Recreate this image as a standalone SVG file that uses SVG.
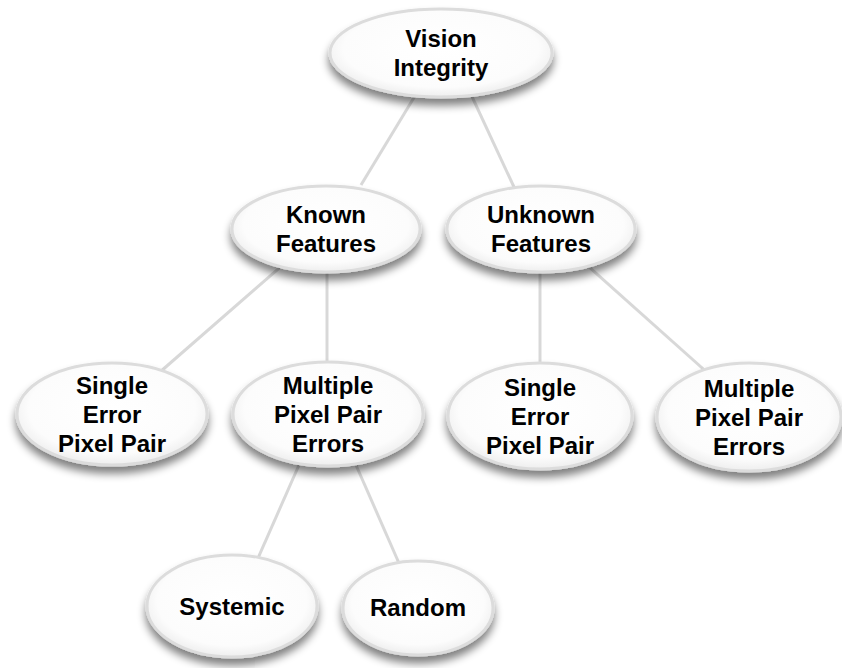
<svg xmlns="http://www.w3.org/2000/svg" width="842" height="668" viewBox="0 0 842 668">
<defs>
<radialGradient id="g" cx="50%" cy="45%" r="55%">
<stop offset="0" stop-color="#ffffff"/>
<stop offset="0.8" stop-color="#fcfcfc"/>
<stop offset="1" stop-color="#eeeeee"/>
</radialGradient>
<filter id="sh" x="-20%" y="-20%" width="140%" height="150%">
<feGaussianBlur in="SourceAlpha" stdDeviation="4"/>
<feOffset dx="0" dy="7" result="b"/>
<feComponentTransfer><feFuncA type="linear" slope="0.5"/></feComponentTransfer>
<feMerge><feMergeNode/><feMergeNode in="SourceGraphic"/></feMerge>
</filter>
</defs>
<style>
.n{fill:url(#g);stroke:#dcdcdc;stroke-width:3;filter:url(#sh)}
.t{font-family:"Liberation Sans",Arial,sans-serif;font-weight:bold;font-size:24px;fill:#000;text-anchor:middle}
.c line{stroke:#d8d8d8;stroke-width:3}
</style>
<rect width="842" height="668" fill="#ffffff"/>
<g class="c" id="connectors">
<line x1="441" y1="53" x2="361" y2="185"/>
<line x1="455" y1="60" x2="520" y2="200"/>
<line x1="300" y1="250" x2="160" y2="372"/>
<line x1="327" y1="240" x2="327" y2="380"/>
<line x1="540" y1="240" x2="540" y2="380"/>
<line x1="570" y1="250" x2="710" y2="375"/>
<line x1="310" y1="440" x2="255" y2="565"/>
<line x1="345" y1="440" x2="402" y2="570"/>
</g>
<g id="vision">
<ellipse class="n" cx="441" cy="53" rx="111" ry="44"/>
<text class="t" x="441" y="47">Vision</text>
<text class="t" x="441" y="76">Integrity</text>
</g>
<g id="known">
<ellipse class="n" cx="326" cy="229" rx="94" ry="43"/>
<text class="t" x="326" y="223">Known</text>
<text class="t" x="326" y="252">Features</text>
</g>
<g id="unknown">
<ellipse class="n" cx="541" cy="229" rx="94" ry="43"/>
<text class="t" x="541" y="223">Unknown</text>
<text class="t" x="541" y="252">Features</text>
</g>
<g id="single-left">
<ellipse class="n" cx="112" cy="414" rx="95" ry="51"/>
<text class="t" x="112" y="394">Single</text>
<text class="t" x="112" y="423">Error</text>
<text class="t" x="112" y="452">Pixel Pair</text>
</g>
<g id="multiple-left">
<ellipse class="n" cx="328" cy="414" rx="95" ry="52"/>
<text class="t" x="328" y="394">Multiple</text>
<text class="t" x="328" y="423">Pixel Pair</text>
<text class="t" x="328" y="452">Errors</text>
</g>
<g id="single-right">
<ellipse class="n" cx="540" cy="416" rx="92" ry="53"/>
<text class="t" x="540" y="396">Single</text>
<text class="t" x="540" y="425">Error</text>
<text class="t" x="540" y="454">Pixel Pair</text>
</g>
<g id="multiple-right">
<ellipse class="n" cx="749" cy="417" rx="92" ry="54"/>
<text class="t" x="749" y="397">Multiple</text>
<text class="t" x="749" y="426">Pixel Pair</text>
<text class="t" x="749" y="455">Errors</text>
</g>
<g id="systemic">
<ellipse class="n" cx="232" cy="606" rx="85" ry="51"/>
<text class="t" x="232" y="615">Systemic</text>
</g>
<g id="random">
<ellipse class="n" cx="418" cy="608" rx="75" ry="47"/>
<text class="t" x="418" y="616">Random</text>
</g>
</svg>
